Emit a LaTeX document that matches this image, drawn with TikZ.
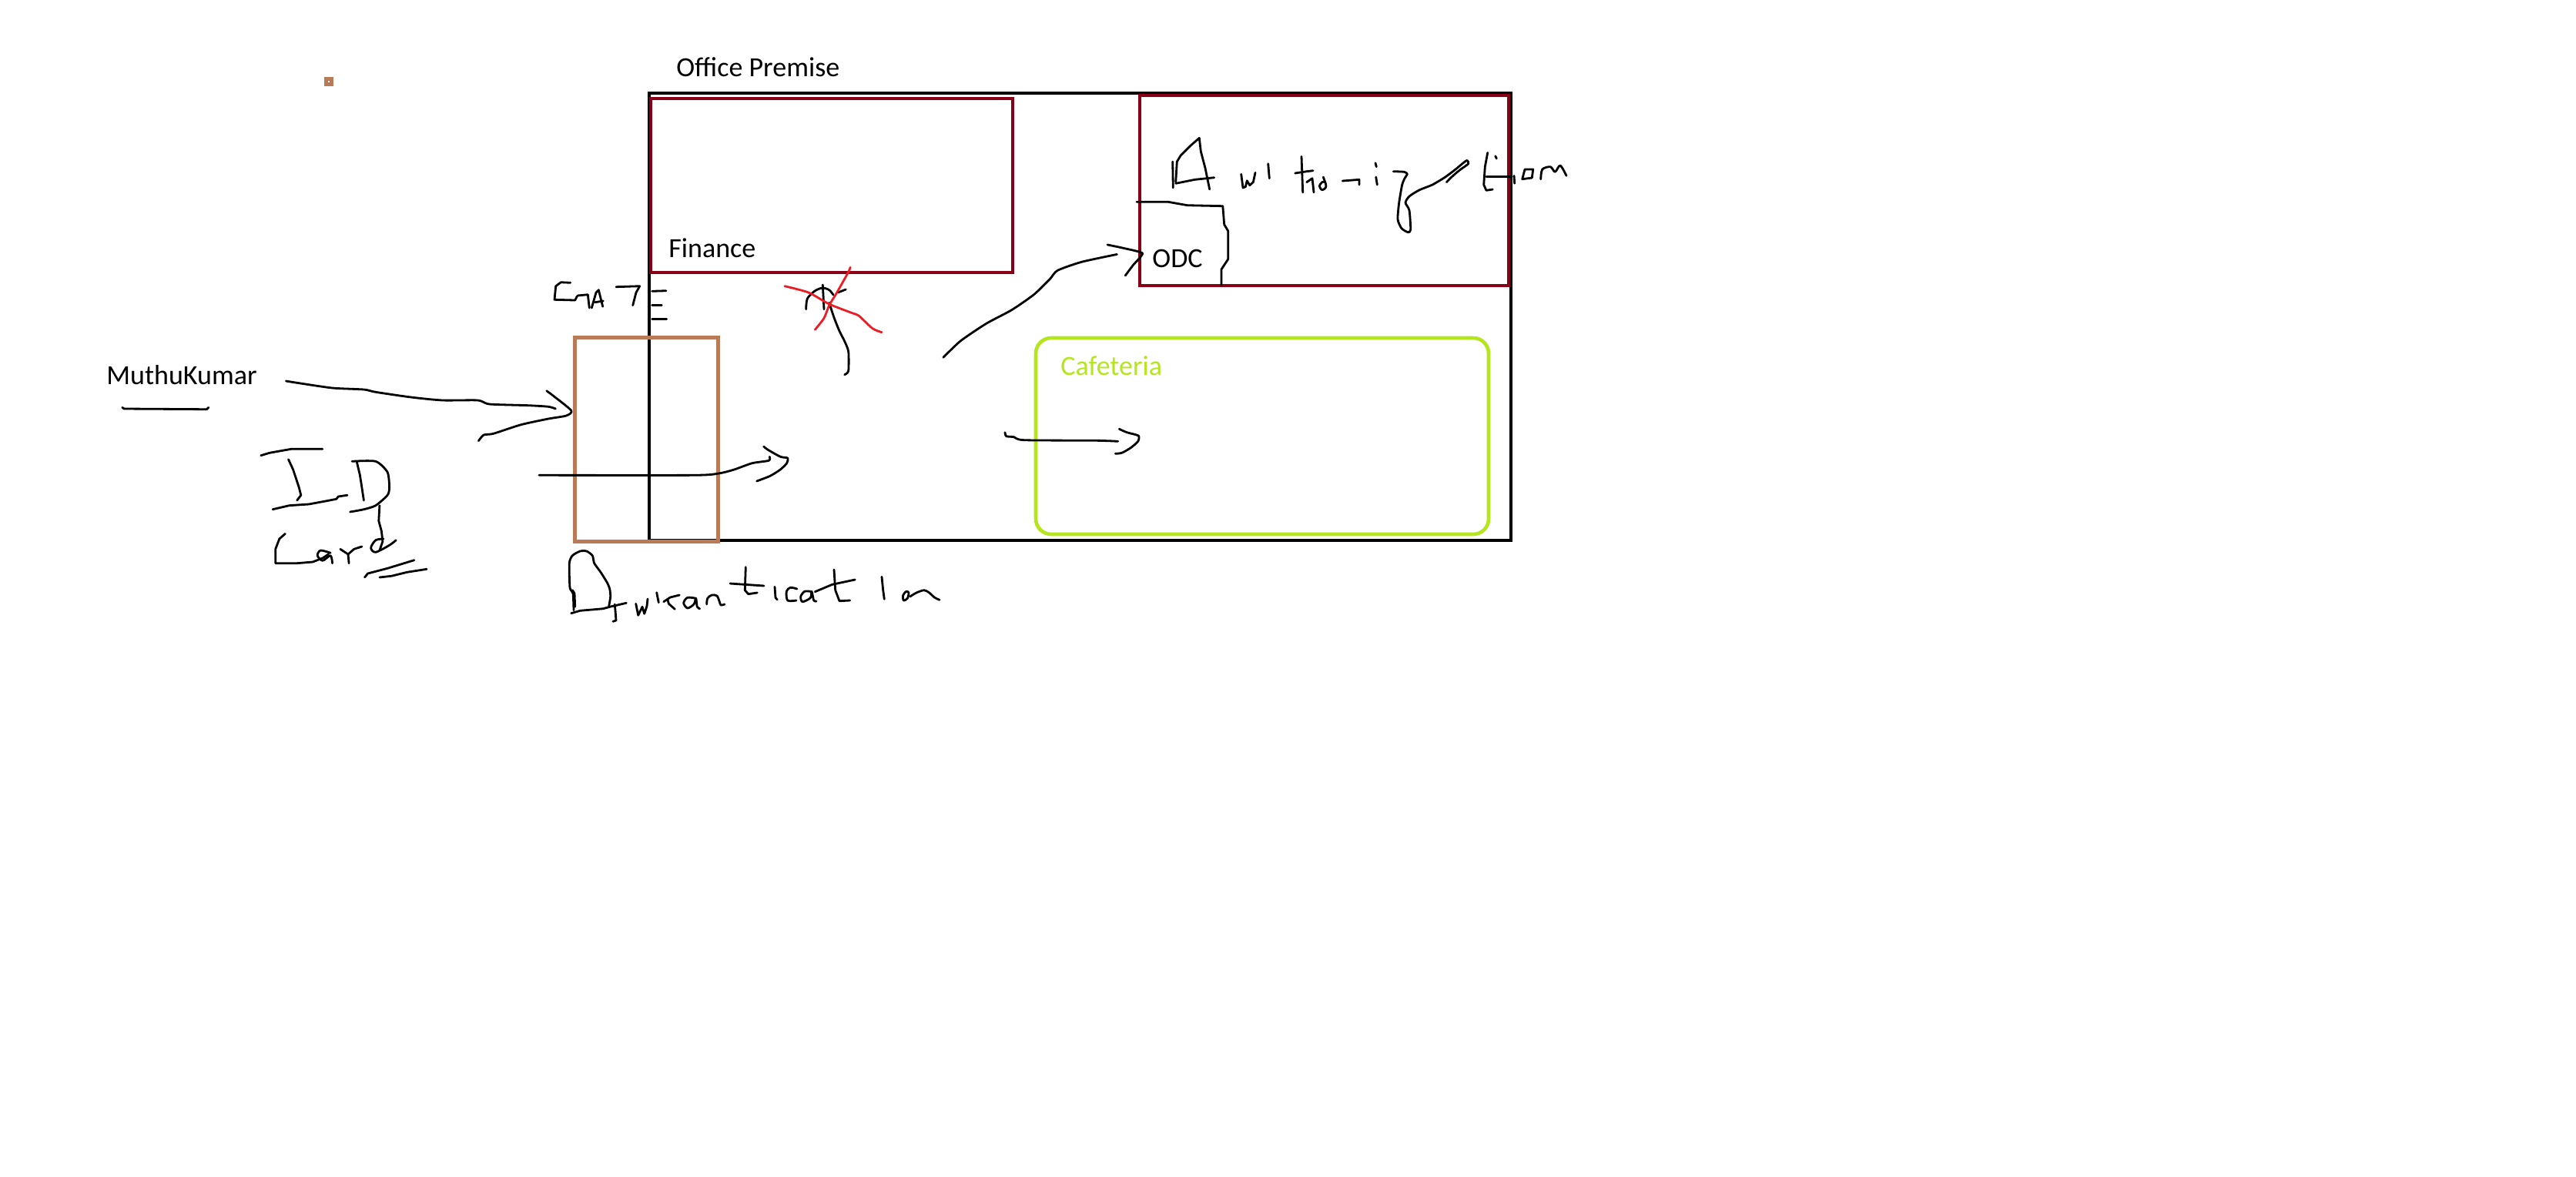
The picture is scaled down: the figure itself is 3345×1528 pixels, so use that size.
\documentclass[tikz,border=0pt]{standalone}
\usepackage{fontspec}
\setmainfont{Carlito}
\definecolor{maroon}{RGB}{136,0,21}
\definecolor{paintbrown}{RGB}{185,122,87}
\definecolor{paintlime}{RGB}{181,230,29}
\definecolor{paintred}{RGB}{237,28,36}

\begin{document}
\begin{tikzpicture}[x=0.5pt, y=-0.5pt,
  txt/.style={font=\fontsize{18}{22}\selectfont, inner sep=0pt, anchor=base west},
  wall/.style={draw=black, line width=2.4pt},
  room/.style={draw=maroon, line width=2.2pt},
  gatebox/.style={draw=paintbrown, line width=2.5pt},
  cafebox/.style={draw=paintlime, line width=2.3pt, rounded corners=10pt},
  pen/.style={draw=black, line width=1.4pt, line cap=round, line join=round},
  redpen/.style={pen, draw=paintred},
]

% page
\path[fill=white] (0,0) rectangle (3345,1528);

% stray dot
\draw[paintbrown, line width=2.5pt] (423.5,102.5) rectangle (430.2,109.2);

% premise and rooms
\draw[wall] (843,121) rectangle (1962,702);
\draw[room] (845,128) rectangle (1315,354);
\draw[room] (1480,124) rectangle (1959,371);
\draw[cafebox] (1345,439) rectangle (1933,694);
\draw[gatebox] (746,438) rectangle (932,703);

\node[txt] (premise) at (878,99) {Office Premise};
\node[txt] (finance) at (868,334) {Finance};
\node[txt] (odc) at (1496,347) {ODC};
\node[txt, text=paintlime] (cafe) at (1377,487) {Cafeteria};
\node[txt] (muthu) at (138,499) {MuthuKumar};

% underline under the name
\draw[pen] (158.7,529.3) -- (161.2,531) -- (268.4,531.7) -- (270.9,529.3);

% name -> gate
\draw[pen] plot[smooth, tension=.4] coordinates {(371.4,495) (385.7,497.3) (431.6,504) (472.4,506) (487.8,509.3) (533.7,516) (574.5,520) (620.4,520) (635.7,525) (686.7,526.7) (712.2,528.3) (721.4,531)};
\draw[pen] plot[smooth, tension=.4] coordinates {(709.7,507.7) (717.3,513.3) (741.8,533.3) (735.2,540) (712.2,544) (676.5,551.7) (640.8,563.3) (628.1,565) (621.4,572.7)};

% through the gate
\draw[pen] plot[smooth, tension=.4] coordinates {(700,617.3) (900,617.3) (933.3,615) (953.3,610) (976.7,601.7) (998.3,598.3) (999.3,593.3)};
\draw[pen] plot[smooth, tension=.4] coordinates {(991.7,580) (996.7,584) (1013.3,593.3) (1022.7,595) (1021.7,601.7) (1013.3,610) (1000,618.3) (982.7,625)};

% towards ODC
\draw[pen] plot[smooth, tension=.4] coordinates {(1224.9,464.3) (1247.3,442.9) (1280.4,420.5) (1313.6,402.7) (1342.6,382.6) (1363.3,362.5) (1373.3,351.3) (1404.8,340.2) (1450.4,330.4)};
\draw[pen] plot[smooth, tension=.3] coordinates {(1438,317.9) (1458.7,322.3) (1483.6,329) (1471.2,344.6) (1461.2,358)};

% into cafeteria
\draw[pen] plot[smooth, tension=.4] coordinates {(1305,561.7) (1306.7,566.7) (1316.7,567.7) (1330,571.7) (1423.3,572.3) (1451.7,573.3)};
\draw[pen] plot[smooth, tension=.4] coordinates {(1453.3,557.3) (1463.3,561.7) (1478.3,566) (1477.7,573.3) (1468.3,581.7) (1456.7,588.3) (1448.3,589.3)};

% ODC outline
\draw[pen] (1476,262.3) -- (1517,262.3) -- (1541.8,266.7) -- (1587.8,267.7) -- (1589.7,291.7) -- (1594.7,300) -- (1594.7,336.7) -- (1585.9,350) -- (1585.9,370);

% GATE
\draw[pen] (740.7,367.3) -- (728.3,366.7) -- (721.7,371.7) -- (720,389.3) -- (746.7,390) -- (749.3,385);
\draw[pen] (750,384) -- (763.3,382.7) -- (765.3,400);
\draw[pen] (768.3,400) -- (774,380) -- (777.3,376.7) -- (782.7,398.3);
\draw[pen] (772.7,392.7) -- (783.3,391);
\draw[pen] (800,372.7) -- (830.7,371.7) -- (826,380) -- (821.7,396.7);
\draw[pen] (846.7,378.3) -- (865,377.7);
\draw[pen] (846.7,396.7) -- (859.3,396.7);
\draw[pen] (846.7,414.3) -- (865.7,414.3);

% person, crossed out
\draw[pen] plot[smooth, tension=.5] coordinates {(1046.7,401.7) (1048.3,388) (1058,378) (1068,374) (1076.7,376.7) (1082,383)};
\draw[pen] (1068.3,370) -- (1070,401.7);
\draw[pen] (1088.3,380) -- (1098.3,376);
\draw[pen] plot[smooth, tension=.4] coordinates {(1076.7,393.3) (1083.3,413.3) (1090,430) (1096.7,443.3) (1101.7,456.7) (1101.7,481.7) (1096.7,486.7)};
\draw[redpen] plot[smooth, tension=.4] coordinates {(1019,371.7) (1050,380) (1076.7,395) (1106.7,406.7) (1115,410) (1133,426.7) (1145,431.7)};
\draw[redpen] plot[smooth, tension=.4] coordinates {(1104,347.3) (1101.7,353.3) (1086.7,380) (1076.7,396.7) (1070,413.3) (1058.3,428.3)};

% ID Card
\draw[pen] (338.8,591.7) -- (350,588.3) -- (378.1,583.3) -- (418.9,583.3);
\draw[pen] (374.5,596.7) -- (380.6,610) -- (388.3,633.3) -- (390.8,643.3) -- (385.7,650);
\draw[pen] (354.1,661.7) -- (375.5,656.7) -- (401,655) -- (418.9,651.7) -- (436.7,648.3) -- (439.3,645) -- (451,643.3);
\draw[pen] (463.3,600) -- (467.3,616.7) -- (469.9,633.3) -- (472.4,650);
\draw[pen] plot[smooth, tension=.4] coordinates {(457.1,599.3) (487.8,599.3) (503.1,613.3) (505.6,633.3) (503.1,643.3) (487.8,656.7) (472.4,661.7) (454.6,665)};
\draw[pen] (370.4,693.3) -- (362.8,700) -- (357.7,713.3) -- (357.7,731.7) -- (385.7,731.7) -- (406.1,730) -- (418.9,725) -- (426.5,720);
\draw[pen] plot[smooth, tension=.5] coordinates {(429.1,718.3) (416.3,715) (412.2,721.7) (418.9,728.3) (429.1,721.7) (431.6,731.7)};
\draw[pen] (441.8,713.3) -- (452,720) -- (453.1,731.7);
\draw[pen] (452,720) -- (459.7,713.3) -- (469.9,710);
\draw[pen] (492.9,656.7) -- (491.8,676.7) -- (495.4,690) -- (496.9,703.3) -- (492.9,715);
\draw[pen] plot[smooth, tension=.5] coordinates {(498,700) (487.8,701.7) (481.6,711.7) (487.8,717.3) (505.6,708.3) (514.3,701.7)};
\draw[pen] (473.5,750) -- (477.6,745) -- (503.1,738.3) -- (537.8,727.7);
\draw[pen] (492.9,750) -- (508.2,748.3) -- (528.6,743.3) -- (554.1,739.3);

% Authentication
\draw[pen] plot[smooth, tension=.4] coordinates {(745,792.7) (744,770.7) (740,763.3) (739.3,731.7) (743.3,721.7) (753.3,716) (761.7,716) (769.3,721.7) (771.7,731.7) (780,743.3) (788.3,756.7) (791.7,765) (792.7,775) (790.7,787.3)};
\draw[pen] (741.7,796.7) -- (753.3,793.3) -- (783.3,790.7) -- (791.7,788.3) -- (801.7,786) -- (813.3,783.3);
\draw[pen] (798.3,785) -- (799.3,796.7) -- (800,806) -- (796,807.3);
\draw[pen] (743.3,766.7) -- (746,770.7) -- (746.7,788.3);
\draw[pen] (825.7,784.3) -- (828.7,799.3) -- (834,788.3) -- (836.7,797.3) -- (840,787.3) -- (841,778);
\draw[pen] (852.7,769.7) -- (855.3,782.7);
\draw[pen] (861.7,781.7) -- (870.3,776) -- (882.3,773);
\draw[pen] (867,778.7) -- (868.3,784.3) -- (876.3,791.3);
\draw[pen] plot[smooth, tension=.5] coordinates {(903.7,777.3) (892.7,776.3) (887.7,783.3) (892.7,790) (901,785) (903.7,777.3) (905.3,788.3) (908.7,790.7)};
\draw[pen] plot[smooth, tension=.5] coordinates {(917.7,785) (918.7,777.3) (924.3,773) (931,774) (934.3,781.7) (936,786) (941,785)};
\draw[pen] (948,758) -- (992,761);
\draw[pen] (968.3,736.7) -- (967.3,766.7) -- (971.7,771.7) -- (983.3,770);
\draw[pen] (1006,762.3) -- (1007,776.3) -- (1009.3,779);
\draw[pen] plot[smooth, tension=.5] coordinates {(1035,765) (1026.3,763.3) (1021.3,768.3) (1022.7,780) (1034,780)};
\draw[pen] plot[smooth, tension=.5] coordinates {(1052.3,768.3) (1044.7,768.3) (1039.7,775) (1042,781.7) (1052.3,776.7) (1054,768.3) (1056.7,780) (1060,781)};
\draw[pen] (1058.3,768.7) -- (1080.7,759.3) -- (1110.3,753);
\draw[pen] (1083,740) -- (1084.7,766.7) -- (1090,780.7) -- (1103.7,780);
\draw[pen] (1145,749.3) -- (1146.7,766.7) -- (1148.3,778.3);
\draw[pen] plot[smooth cycle, tension=.5] coordinates {(1176.7,768.3) (1172.7,773.3) (1173.3,780) (1178.3,777.3) (1180,770)};
\draw[pen] plot[smooth, tension=.5] coordinates {(1181.7,775) (1190,770) (1200,766.7) (1206.7,770) (1213.3,776) (1220,779.3)};

% Authorization
\draw[pen] (1522.7,210) -- (1523.3,244);
\draw[pen] (1526.7,236.7) -- (1528.3,210) -- (1533.3,201.7) -- (1545,190) -- (1557.3,179.3) -- (1559.3,196.7) -- (1565,218.3) -- (1570.7,246);
\draw[pen] (1526.7,238.3) -- (1551.7,233.3) -- (1576.7,230.7);
\draw[pen] (1611.7,226.3) -- (1614,244) -- (1617.3,242.7) -- (1619.3,234.7) -- (1622.7,240.7) -- (1627.3,236.7) -- (1630,224.3);
\draw[pen] (1646.7,212.7) -- (1648.3,231.7);
\draw[pen] (1690,203.3) -- (1691.7,250);
\draw[pen] (1681.7,225) -- (1696.7,222.7) -- (1705,221.7);
\draw[pen] (1696.7,236.7) -- (1704,231.7) -- (1706,250);
\draw[pen] plot[smooth cycle, tension=.5] coordinates {(1716.7,236.7) (1713.3,241.7) (1716.7,246.7) (1721.7,243.3) (1720.7,236.7)};
\draw[pen] (1720.7,236.7) -- (1718.3,230);
\draw[pen] (1743.3,235) -- (1765,233.3) -- (1765,240);
\draw[pen] (1786,211.7) -- (1787.3,216.7);
\draw[pen] (1786.7,230) -- (1788.3,240);
\draw[pen] plot[smooth, tension=.4] coordinates {(1809.3,222.7) (1823.3,223.3) (1827.3,226) (1824,231.7) (1820.7,240) (1816.7,263.3) (1815,285) (1820,296.7) (1828.3,301.7) (1831.7,298.3) (1830,273.3) (1825,263.3) (1830,255) (1843.3,246.7) (1860,240) (1876.7,230) (1890,220) (1900,211.7) (1905,208.3) (1906.7,212.7) (1896.7,220) (1886.7,228.3) (1878.3,236.7)};
\draw[pen] (1931.7,198.3) -- (1928.3,216.7) -- (1926.7,240) -- (1930,247.3) -- (1938.3,246);
\draw[pen] (1930,229.3) -- (1963.3,229.3);
\draw[pen] (1941.7,202.7) -- (1943.3,206);
\draw[pen] (1966,228.3) -- (1966.7,238.3);
\draw[pen] (1980,220) -- (1976.7,232.7) -- (1989.3,231) -- (1990.7,220) -- cycle;
\draw[pen] plot[smooth, tension=.5] coordinates {(2000.7,232.7) (2002.7,220) (2013.3,216.7) (2019.3,223.3) (2026,215) (2034,228.3)};

\end{tikzpicture}
\end{document}
